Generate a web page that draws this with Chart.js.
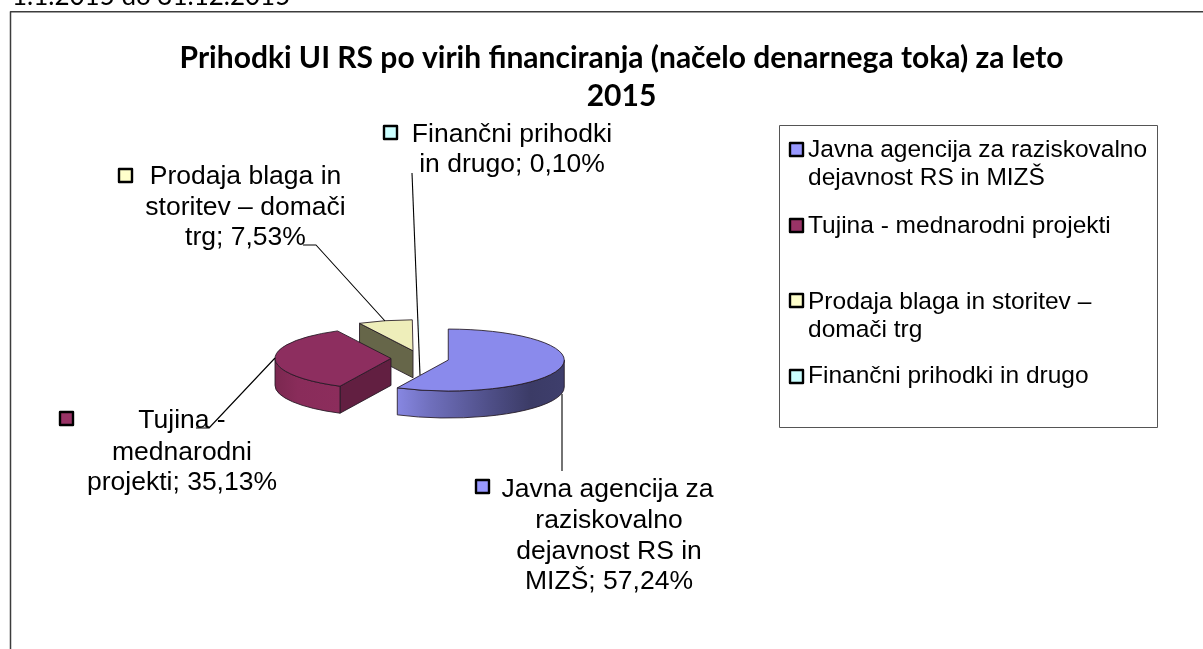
<!DOCTYPE html>
<html><head><meta charset="utf-8">
<script src="https://cdn.jsdelivr.net/npm/chart.js@4"></script>
<style>html,body{margin:0;padding:0;background:#fff;overflow:hidden}canvas{display:block}</style>
</head><body><canvas id="c" width="1203" height="649"></canvas>
<script>
const categories = ['Javna agencija za raziskovalno dejavnost RS in MIZŠ','Tujina - mednarodni projekti','Prodaja blaga in storitev – domači trg','Finančni prihodki in drugo'];
const values = [57.24, 35.13, 7.53, 0.10];
const titleLines = ['Prihodki UI RS po virih financiranja (načelo denarnega toka) za leto','2015'];
const topText = '1.1.2015 do 31.12.2015';
const pct = v => v.toFixed(2).replace('.', ',') + '%';

const faceColors = ['#8a8aec','#8d2e5f','#eeeeba','#ccffff'];
const swatchColors = ['#9999ff','#993366','#ffffcc','#ccffff'];
const sideColors = ['#40406e','#621f41','#666649','#667f7f'];
const wallStops = [
  [[0,'#8787e2'],[0.2,'#6f6fbc'],[0.55,'#4f4f88'],[0.8,'#3b3b66'],[1,'#3e3e6c']],
  [[0,'#7b2850'],[0.35,'#892c5a'],[1,'#8c2d5c']],
  [[0,'#666649'],[1,'#666649']],
  [[0,'#667f7f'],[1,'#667f7f']]
];

const pieCenter = {x:420, y:358.3};
const squash = 0.267, explode = 29, depth = 27;

const legendLayout = [
  {lines:['Javna agencija za raziskovalno','dejavnost RS in MIZŠ'], base:[157,185], box:142},
  {lines:['Tujina - mednarodni projekti'], base:[233], box:218},
  {lines:['Prodaja blaga in storitev –','domači trg'], base:[309,337], box:293},
  {lines:['Finančni prihodki in drugo'], base:[383], box:369}
];
const dataLabels = [
  {lines:['Javna agencija za','raziskovalno','dejavnost RS in','MIZŠ; '+pct(values[0])], cx:[607.5,609,609,609], base:[497,528,559,589], box:[475,479]},
  {lines:['Tujina -','mednarodni','projekti; '+pct(values[1])], cx:[182,182,182], base:[428,460,490], box:[59,411]},
  {lines:['Prodaja blaga in','storitev – domači','trg; '+pct(values[2])], cx:[245.5,245.5,245.5], base:[184,215,245], box:[118,168]},
  {lines:['Finančni prihodki','in drugo; '+pct(values[3])], cx:[512,512], base:[142,172], box:[383,125]}
];
const leaders = [
  [[562,394],[562,471]],
  [[275,358],[209,428],[196,428]],
  [[385,321],[316,245],[303,245]],
  [[412,173],[420,375]]
];

function norm(a){const T=Math.PI*2;return ((a%T)+T)%T;}

const pie3d = {
  id:'pie3d',
  beforeDatasetsDraw(chart){
    const ctx = chart.ctx, arcs = chart.getDatasetMeta(0).data;
    const order = [3,2,1,0];
    order.forEach(i=>{
      const a = arcs[i], r = a.outerRadius, mid=(a.startAngle+a.endAngle)/2;
      const sx = pieCenter.x + Math.cos(mid)*explode;
      const sy = pieCenter.y + Math.sin(mid)*explode*squash;
      const ry = r*squash;
      const sliver = (a.endAngle-a.startAngle) < 0.02;
      const pt = t=>[sx+r*Math.cos(t), sy+ry*Math.sin(t)];
      const outline = () => { ctx.strokeStyle='rgba(35,25,35,0.85)'; ctx.lineWidth=1; ctx.lineJoin='round'; ctx.stroke(); };
      const radialWall = t=>{
        const p=pt(t);
        ctx.beginPath();ctx.moveTo(sx,sy);ctx.lineTo(p[0],p[1]);ctx.lineTo(p[0],p[1]+depth);ctx.lineTo(sx,sy+depth);ctx.closePath();
        ctx.fillStyle=sideColors[i];ctx.fill();outline();
      };
      if (!sliver && Math.sin(a.startAngle-Math.PI/2)>0.001) radialWall(a.startAngle);
      if (!sliver && Math.sin(a.endAngle+Math.PI/2)>0.001) radialWall(a.endAngle);
      let s=norm(a.startAngle), e=s+(a.endAngle-a.startAngle);
      let from=null,to=null;
      for (const k of [0,Math.PI*2]) {
        const f=Math.max(s,k), g=Math.min(e,k+Math.PI);
        if (g>f) {from=f;to=g;}
      }
      if (from!==null){
        const x0=pt(to)[0], x1=pt(from)[0];
        const g=ctx.createLinearGradient(x0,0,x1,0);
        wallStops[i].forEach(q=>g.addColorStop(q[0],q[1]));
        ctx.beginPath();
        ctx.ellipse(sx,sy,r,ry,0,from,to);
        ctx.ellipse(sx,sy+depth,r,ry,0,to,from,true);
        ctx.closePath();ctx.fillStyle=g;ctx.fill();outline();
      }
      ctx.save();
      ctx.translate(sx,sy);ctx.scale(1,squash);ctx.translate(-a.x,-a.y);
      a.draw(ctx);
      ctx.restore();
      if (!sliver){
        ctx.beginPath();ctx.moveTo(sx,sy);ctx.ellipse(sx,sy,r,ry,0,a.startAngle,a.endAngle);ctx.closePath();
        outline();
      }
    });
    return false;
  },
  afterDraw(chart){
    const ctx = chart.ctx;
    ctx.save();
    ctx.textBaseline='alphabetic';
    ctx.strokeStyle='#3c3c3c';ctx.lineWidth=1.5;
    ctx.beginPath();ctx.moveTo(10.5,649);ctx.lineTo(10.5,11.8);ctx.lineTo(1203,11.8);ctx.stroke();
    ctx.fillStyle='#000';ctx.font='26px Lato';ctx.textAlign='left';
    ctx.fillText(topText,12,5);
    ctx.strokeStyle='#555';ctx.lineWidth=1;ctx.strokeRect(779.5,125.5,378,302);
    const swatch=(x,y,col)=>{
      ctx.fillStyle=col;ctx.fillRect(x+1,y+1,13,13);
      ctx.strokeStyle='#000';ctx.lineWidth=2.4;ctx.strokeRect(x+1,y+1,13,13);
    };
    ctx.font='24.5px "Liberation Sans"';ctx.textAlign='left';
    legendLayout.forEach((l,i)=>{
      swatch(789,l.box,swatchColors[i]);
      ctx.fillStyle='#000';
      l.lines.forEach((t,j)=>ctx.fillText(t,808,l.base[j]));
    });
    ctx.strokeStyle='#000';ctx.lineWidth=1.1;
    leaders.forEach(p=>{ctx.beginPath();p.forEach((q,k)=>k?ctx.lineTo(q[0],q[1]):ctx.moveTo(q[0],q[1]));ctx.stroke();});
    ctx.font='26.5px "Liberation Sans"';ctx.textAlign='center';
    dataLabels.forEach((l,i)=>{
      swatch(l.box[0],l.box[1],swatchColors[i]);
      ctx.fillStyle='#000';
      l.lines.forEach((t,j)=>ctx.fillText(t,l.cx[j],l.base[j]));
    });
    ctx.restore();
  }
};

new Chart(document.getElementById('c'),{
  type:'pie',
  data:{labels:categories,datasets:[{data:values,backgroundColor:faceColors,borderWidth:0,radius:116}]},
  options:{
    responsive:false,animation:false,events:[],
    layout:{padding:{left:40,right:0,top:0,bottom:0}},
    plugins:{
      legend:{display:false},tooltip:{enabled:false},
      title:{display:true,text:titleLines,color:'#000',align:'center',
        font:{family:'Lato',weight:'bold',size:30,lineHeight:1.267},padding:{top:39,bottom:0}}
    }
  },
  plugins:[pie3d]
});
</script></body></html>
